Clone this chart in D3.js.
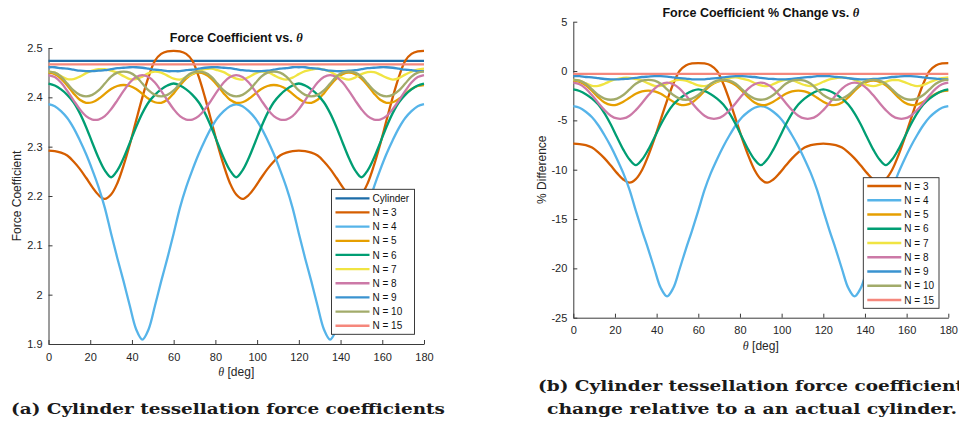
<!DOCTYPE html>
<html>
<head>
<meta charset="utf-8">
<title>Cylinder tessellation force coefficients</title>
<script src="https://d3js.org/d3.v7.min.js"></script>
<style>
    body { margin: 0; background: #ffffff; }
    svg { display: block; font-family: "Liberation Sans", Arial, Helvetica, sans-serif; }
    .tick text { font-size: 11px; fill: #262626; }
    .domain, .tick line { stroke: #3a3a3a; }
    .caption { font-family: "DejaVu Serif", serif; font-weight: bold; font-size: 15.5px; fill: #1a1a1a; }
</style>
</head>
<body>
<div id="chart"></div>
<script>
// theta sample grid [deg]
var theta = d3.range(0, 181, 3);

// force coefficient, one value per theta sample
var cylinder = [2.474, 2.474, 2.474, 2.474, 2.474, 2.474, 2.474, 2.474, 2.474, 2.474,
    2.474, 2.474, 2.474, 2.474, 2.474, 2.474, 2.474, 2.474, 2.474, 2.474,
    2.474, 2.474, 2.474, 2.474, 2.474, 2.474, 2.474, 2.474, 2.474, 2.474,
    2.474, 2.474, 2.474, 2.474, 2.474, 2.474, 2.474, 2.474, 2.474, 2.474,
    2.474, 2.474, 2.474, 2.474, 2.474, 2.474, 2.474, 2.474, 2.474, 2.474,
    2.474, 2.474, 2.474, 2.474, 2.474, 2.474, 2.474, 2.474, 2.474, 2.474, 2.474];

var n3 = [2.292, 2.291, 2.288, 2.282, 2.270, 2.255, 2.237, 2.218, 2.202, 2.194,
    2.203, 2.226, 2.262, 2.305, 2.353, 2.400, 2.442, 2.474, 2.488, 2.493, 2.494,
    2.493, 2.488, 2.474, 2.442, 2.400, 2.353, 2.305, 2.262, 2.226, 2.203,
    2.194, 2.202, 2.218, 2.237, 2.255, 2.270, 2.282, 2.288, 2.291, 2.292,
    2.291, 2.288, 2.282, 2.270, 2.255, 2.237, 2.218, 2.202, 2.194, 2.203,
    2.226, 2.262, 2.305, 2.353, 2.400, 2.442, 2.474, 2.488, 2.493, 2.494];

var n4 = [2.386, 2.382, 2.372, 2.358, 2.338, 2.313, 2.285, 2.253, 2.218, 2.176,
    2.124, 2.074, 2.027, 1.977, 1.930, 1.909,
    1.930, 1.977, 2.027, 2.074, 2.124, 2.176, 2.218, 2.253, 2.285, 2.313, 2.338, 2.358, 2.372, 2.382, 2.386,
    2.382, 2.372, 2.358, 2.338, 2.313, 2.285, 2.253, 2.218, 2.176, 2.124, 2.074, 2.027, 1.977, 1.930, 1.909,
    1.930, 1.977, 2.027, 2.074, 2.124, 2.176, 2.218, 2.253, 2.285, 2.313, 2.338, 2.358, 2.372, 2.382, 2.386];

var n5 = [2.450, 2.447, 2.438, 2.424, 2.408, 2.395, 2.389, 2.390, 2.397, 2.407, 2.417, 2.423, 2.425,
    2.423, 2.417, 2.407, 2.397, 2.390, 2.389, 2.395, 2.408, 2.424, 2.438, 2.447, 2.450,
    2.447, 2.438, 2.424, 2.408, 2.395, 2.389, 2.390, 2.397, 2.407, 2.417, 2.423, 2.425,
    2.423, 2.417, 2.407, 2.397, 2.390, 2.389, 2.395, 2.408, 2.424, 2.438, 2.447, 2.450,
    2.447, 2.438, 2.424, 2.408, 2.395, 2.389, 2.390, 2.397, 2.407, 2.417, 2.423, 2.425];

var n6 = [2.428, 2.424, 2.416, 2.405, 2.390, 2.368, 2.340, 2.308, 2.277, 2.252, 2.238,
    2.252, 2.277, 2.308, 2.340, 2.368, 2.390, 2.405, 2.416, 2.424, 2.428,
    2.424, 2.416, 2.405, 2.390, 2.368, 2.340, 2.308, 2.277, 2.252, 2.238,
    2.252, 2.277, 2.308, 2.340, 2.368, 2.390, 2.405, 2.416, 2.424, 2.428,
    2.424, 2.416, 2.405, 2.390, 2.368, 2.340, 2.308, 2.277, 2.252, 2.238,
    2.252, 2.277, 2.308, 2.340, 2.368, 2.390, 2.405, 2.416, 2.424, 2.428];

var n7 = [2.452, 2.450, 2.443, 2.437, 2.437, 2.442, 2.449, 2.454, 2.457, 2.457,
    2.454, 2.450, 2.443, 2.437, 2.437, 2.442, 2.449, 2.452, 2.450, 2.444,
    2.438, 2.436, 2.441, 2.448, 2.453, 2.457, 2.458, 2.455, 2.451, 2.444,
    2.438, 2.436, 2.441, 2.448, 2.452, 2.451, 2.445, 2.439, 2.436, 2.440,
    2.447, 2.453, 2.456, 2.458, 2.456, 2.452, 2.445, 2.439, 2.436, 2.440,
    2.447, 2.451, 2.451, 2.446, 2.440, 2.436, 2.439, 2.446, 2.452, 2.456, 2.458];

var n8 = [2.445, 2.441, 2.430, 2.413, 2.394, 2.376, 2.362, 2.355, 2.355, 2.362, 2.376, 2.394, 2.413, 2.430, 2.441,
    2.445, 2.441, 2.430, 2.413, 2.394, 2.376, 2.362, 2.355, 2.355, 2.362, 2.376, 2.394, 2.413, 2.430, 2.441,
    2.445, 2.441, 2.430, 2.413, 2.394, 2.376, 2.362, 2.355, 2.355, 2.362, 2.376, 2.394, 2.413, 2.430, 2.441,
    2.445, 2.441, 2.430, 2.413, 2.394, 2.376, 2.362, 2.355, 2.355, 2.362, 2.376, 2.394, 2.413, 2.430, 2.441,
    2.445];

var n9 = [2.461, 2.461, 2.459, 2.458, 2.456, 2.454, 2.453, 2.453, 2.454, 2.455,
    2.457, 2.459, 2.460, 2.461, 2.461, 2.460, 2.458, 2.456, 2.455, 2.453,
    2.453, 2.453, 2.455, 2.456, 2.458, 2.460, 2.461, 2.461, 2.460, 2.459,
    2.457, 2.455, 2.454, 2.453, 2.453, 2.454, 2.456, 2.458, 2.459, 2.461,
    2.461, 2.461, 2.459, 2.458, 2.456, 2.454, 2.453, 2.453, 2.454, 2.455,
    2.457, 2.459, 2.460, 2.461, 2.461, 2.460, 2.458, 2.456, 2.455, 2.453, 2.453];

var n10 = [2.452, 2.450, 2.442, 2.428, 2.414, 2.405, 2.402, 2.405, 2.414, 2.428, 2.442, 2.450,
    2.452, 2.450, 2.442, 2.428, 2.414, 2.405, 2.402, 2.405, 2.414, 2.428, 2.442, 2.450,
    2.452, 2.450, 2.442, 2.428, 2.414, 2.405, 2.402, 2.405, 2.414, 2.428, 2.442, 2.450,
    2.452, 2.450, 2.442, 2.428, 2.414, 2.405, 2.402, 2.405, 2.414, 2.428, 2.442, 2.450,
    2.452, 2.450, 2.442, 2.428, 2.414, 2.405, 2.402, 2.405, 2.414, 2.428, 2.442, 2.450,
    2.452];

var n15 = [2.467, 2.467, 2.467, 2.467, 2.467, 2.467, 2.467, 2.467, 2.467, 2.467,
    2.467, 2.467, 2.467, 2.467, 2.467, 2.467, 2.467, 2.467, 2.467, 2.467,
    2.467, 2.467, 2.467, 2.467, 2.467, 2.467, 2.467, 2.467, 2.467, 2.467,
    2.467, 2.467, 2.467, 2.467, 2.467, 2.467, 2.467, 2.467, 2.467, 2.467,
    2.467, 2.467, 2.467, 2.467, 2.467, 2.467, 2.467, 2.467, 2.467, 2.467,
    2.467, 2.467, 2.467, 2.467, 2.467, 2.467, 2.467, 2.467, 2.467, 2.467, 2.467];

var seriesNames = ["Cylinder", "N = 3", "N = 4", "N = 5", "N = 6", "N = 7", "N = 8", "N = 9", "N = 10", "N = 15"];
var seriesValues = [cylinder, n3, n4, n5, n6, n7, n8, n9, n10, n15];
var seriesColors = ["#1c6ca8", "#d55e00", "#56b4e9", "#e69f00", "#009e73",
    "#f0e442", "#cc79a7", "#3a93d0", "#a2ab6a", "#f5877c"];

var thetaTicks = [0, 20, 40, 60, 80, 100, 120, 140, 160, 180];
var forceTicks = [1.9, 2, 2.1, 2.2, 2.3, 2.4, 2.5];
var pctTicks = [-25, -20, -15, -10, -5, 0, 5];

// % change of each tessellation relative to the cylinder
var pctValues = seriesValues.map(function (vals) {
    return vals.map(function (v, i) { return (v - cylinder[i]) / cylinder[i] * 100; });
});

var svg = d3.select("#chart").append("svg")
    .attr("width", 959)
    .attr("height", 426);

function drawPanel(p) {
    var x = d3.scaleLinear().domain([0, 180]).range(p.xRange);
    var y = d3.scaleLinear().domain(p.yDomain).range(p.yRange);
    var g = svg.append("g");

    // axes (MATLAB style: ticks pointing in, no box)
    g.append("g")
        .attr("transform", "translate(0," + p.yRange[0] + ")")
        .call(d3.axisBottom(x).tickValues(thetaTicks).tickSizeInner(-4).tickSizeOuter(0).tickPadding(9));
    g.append("g")
        .attr("transform", "translate(" + p.xRange[0] + ",0)")
        .call(d3.axisLeft(y).tickValues(p.yTicks).tickFormat(function (d) { return String(+d.toFixed(1)); })
            .tickSizeInner(-4).tickSizeOuter(0).tickPadding(6));

    var line = d3.line()
        .x(function (d) { return x(d[0]); })
        .y(function (d) { return y(d[1]); })
        .curve(d3.curveCatmullRom.alpha(0.5));

    p.idx.forEach(function (k) {
        var pts = theta.map(function (t, i) { return [t, p.values[k][i]]; });
        g.append("path")
            .datum(pts)
            .attr("d", line)
            .attr("fill", "none")
            .attr("stroke", seriesColors[k])
            .attr("stroke-width", 2.3)
            .attr("stroke-linejoin", "round");
    });

    // title
    var xc = (p.xRange[0] + p.xRange[1]) / 2;
    var title = g.append("text")
        .attr("x", xc).attr("y", p.titleY)
        .attr("text-anchor", "middle")
        .style("font-size", "12.5px").style("font-weight", "bold").style("fill", "#111");
    title.append("tspan").text(p.title);
    title.append("tspan").style("font-family", "'Liberation Serif', serif").style("font-style", "italic").text("θ");

    // axis labels
    var xl = g.append("text")
        .attr("x", xc).attr("y", p.yRange[0] + 32)
        .attr("text-anchor", "middle")
        .style("font-size", "12px").style("fill", "#262626");
    xl.append("tspan").style("font-family", "'Liberation Serif', serif").style("font-style", "italic").text("θ");
    xl.append("tspan").text(" [deg]");

    g.append("text")
        .attr("transform", "translate(" + p.ylabelX + "," + ((p.yRange[0] + p.yRange[1]) / 2) + ") rotate(-90)")
        .attr("text-anchor", "middle")
        .style("font-size", "12px").style("fill", "#262626")
        .text(p.ylabel);

    // legend
    var lg = g.append("g");
    lg.append("rect")
        .attr("x", p.legend.x0).attr("y", p.legend.y0)
        .attr("width", p.legend.x1 - p.legend.x0).attr("height", p.legend.y1 - p.legend.y0)
        .attr("fill", "#fff").attr("stroke", "#262626").attr("stroke-width", 0.9);
    p.legendIdx.forEach(function (k, j) {
        var cy = p.legend.row0 + j * p.legend.step;
        lg.append("line")
            .attr("x1", p.legend.x0 + 4).attr("x2", p.legend.x0 + 38)
            .attr("y1", cy).attr("y2", cy)
            .attr("stroke", seriesColors[k]).attr("stroke-width", 2.3);
        lg.append("text")
            .attr("x", p.legend.x0 + 41).attr("y", cy + 3.6)
            .style("font-size", "10px").style("fill", "#111")
            .text(seriesNames[k]);
    });
}

drawPanel({
    xRange: [48.5, 424], yRange: [344, 48], yDomain: [1.9, 2.5], yTicks: forceTicks,
    values: seriesValues, idx: [0, 1, 2, 3, 4, 5, 6, 7, 8, 9],
    title: "Force Coefficient vs. ", titleY: 41.5,
    ylabel: "Force Coefficient", ylabelX: 21,
    legend: { x0: 331.5, x1: 414.5, y0: 189.3, y1: 334.3, row0: 198.3, step: 14.16 },
    legendIdx: [0, 1, 2, 3, 4, 5, 6, 7, 8, 9]
});

drawPanel({
    xRange: [573.3, 948.3], yRange: [317.7, 21.7], yDomain: [-25, 5], yTicks: pctTicks,
    values: pctValues, idx: [1, 2, 3, 4, 5, 6, 7, 8, 9],
    title: "Force Coefficient % Change vs. ", titleY: 16.5,
    ylabel: "% Difference", ylabelX: 546,
    legend: { x0: 863.3, x1: 939, y0: 177.7, y1: 308.3, row0: 186, step: 14.25 },
    legendIdx: [1, 2, 3, 4, 5, 6, 7, 8, 9]
});

// sub-figure captions
svg.append("text").attr("class", "caption")
    .attr("x", 11).attr("y", 414)
    .attr("textLength", 434).attr("lengthAdjust", "spacingAndGlyphs")
    .text("(a) Cylinder tessellation force coefficients");
svg.append("text").attr("class", "caption")
    .attr("x", 538).attr("y", 391)
    .attr("textLength", 426).attr("lengthAdjust", "spacingAndGlyphs")
    .text("(b) Cylinder tessellation force coefficient");
svg.append("text").attr("class", "caption")
    .attr("x", 547).attr("y", 414)
    .attr("textLength", 410).attr("lengthAdjust", "spacingAndGlyphs")
    .text("change relative to a an actual cylinder.");
</script>
</body>
</html>
